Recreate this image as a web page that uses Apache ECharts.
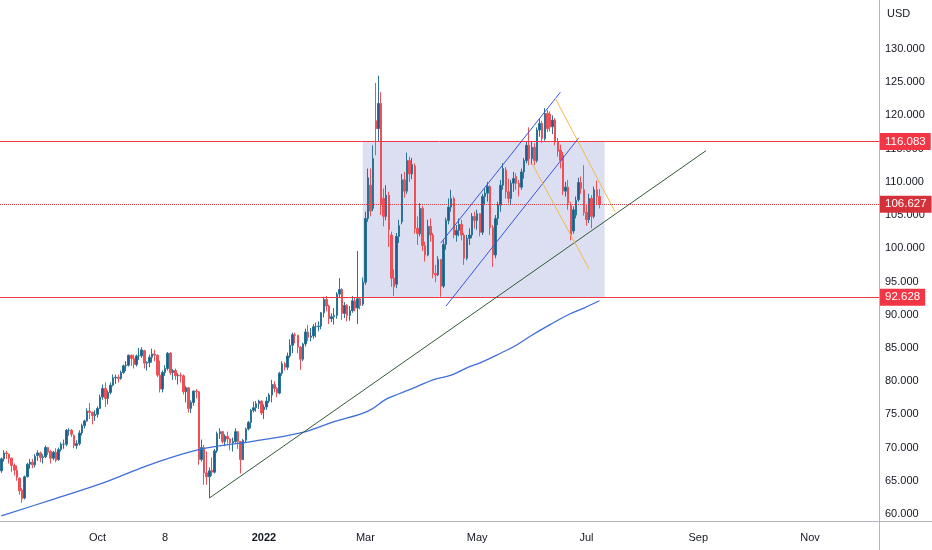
<!DOCTYPE html>
<html>
<head>
<meta charset="utf-8">
<title>USD daily chart</title>
<style>
  html, body { margin: 0; padding: 0; background: #ffffff; }
  #chart { width: 932px; height: 550px; }
</style>
</head>
<body>
<div id="chart"></div>
<script src="https://cdn.jsdelivr.net/npm/echarts@6.0.0/dist/echarts.min.js"></script>
<script>
// trading days (weekends and exchange holidays skipped), future days continue on weekdays
var holidays = ['2021-09-06', '2021-11-25', '2021-12-24', '2022-01-17', '2022-02-21',
  '2022-04-15', '2022-05-30', '2022-06-20', '2022-07-04'];
var barCount = 338;
var dates = [];
(function () {
  var d = new Date(Date.UTC(2021, 7, 10));
  while (dates.length < barCount) {
    var s = d.toISOString().slice(0, 10);
    var wd = d.getUTCDay();
    if (wd !== 0 && wd !== 6 && holidays.indexOf(s) < 0) dates.push(s);
    d.setUTCDate(d.getUTCDate() + 1);
  }
})();

var tickDates = ['2021-10-01', '2021-11-08', '2022-01-03', '2022-03-01', '2022-05-02', '2022-07-01', '2022-09-01', '2022-11-01'];
var tickTexts = ['Oct', '8', '2022', 'Mar', 'May', 'Jul', 'Sep', 'Nov'];
var priceTicks = [60, 65, 70, 75, 80, 85, 90, 95, 100, 105, 110, 115, 120, 125, 130];

// [open, close, low, high]
var ohlc = [
  // Aug 2021
  [66.5, 68.3, 66.2, 68.5], [68.3, 69.2, 67.9, 69.6], [69.2, 69.1, 68.3, 69.5], [69.0, 68.4, 67.6, 69.1],
  [68.4, 67.3, 66.3, 68.5], [67.3, 66.6, 65.8, 67.6], [66.6, 65.5, 65.0, 67.3], [65.4, 63.5, 62.9, 65.5],
  [63.6, 62.3, 61.7, 63.9], [62.4, 65.6, 62.2, 65.8], [65.6, 67.5, 65.5, 67.7], [67.5, 67.8, 66.8, 68.3],
  [67.8, 67.4, 66.9, 68.3], [67.4, 68.7, 67.0, 69.0], [68.8, 69.2, 68.0, 69.6], [69.2, 68.5, 67.8, 69.4],
  // Sep
  [68.5, 68.6, 67.6, 69.0], [68.6, 70.0, 68.4, 70.3], [70.0, 69.3, 68.9, 70.1], [69.4, 68.4, 67.6, 69.6],
  [68.4, 69.3, 68.1, 69.5], [69.3, 68.1, 67.8, 69.9], [68.2, 69.7, 68.0, 70.0], [69.7, 70.5, 69.4, 70.8],
  [70.5, 70.5, 69.8, 71.2], [70.5, 72.6, 70.2, 72.8], [72.6, 72.6, 71.8, 72.9], [72.6, 72.0, 71.6, 72.8],
  [71.8, 70.3, 69.9, 72.0], [70.3, 70.6, 69.8, 71.1], [70.6, 72.2, 70.3, 72.6], [72.2, 73.3, 71.8, 73.6],
  [73.3, 74.0, 72.9, 74.2], [74.0, 75.5, 73.9, 75.9], [75.5, 75.3, 74.3, 76.7], [75.3, 74.8, 73.5, 75.4],
  [74.8, 75.0, 74.0, 75.6],
  // Oct
  [75.0, 75.9, 74.5, 76.2], [75.9, 77.6, 75.8, 78.0], [77.6, 78.9, 77.2, 79.5], [78.9, 77.4, 76.1, 79.8],
  [77.4, 78.3, 76.5, 78.6], [78.3, 79.4, 78.0, 79.8], [79.4, 80.5, 79.2, 81.0], [80.5, 80.6, 79.6, 81.0],
  [80.6, 80.4, 79.8, 81.0], [80.4, 81.3, 80.2, 81.6], [81.3, 82.3, 81.1, 82.5], [82.3, 82.4, 81.5, 83.0],
  [82.4, 83.9, 82.2, 84.0], [83.9, 83.4, 82.3, 84.0], [83.4, 82.5, 81.9, 84.0], [82.5, 83.8, 82.2, 84.0],
  [83.8, 83.8, 83.2, 85.0], [83.8, 84.7, 83.5, 85.1], [84.6, 82.7, 81.9, 84.7], [82.7, 82.8, 81.6, 83.0],
  [82.8, 83.6, 82.1, 84.0],
  // Nov
  [83.6, 84.1, 82.8, 84.9], [84.1, 83.9, 83.0, 84.7], [83.9, 80.9, 80.6, 84.0], [80.9, 78.8, 78.3, 83.1],
  [78.8, 81.3, 78.3, 81.6], [81.3, 81.9, 80.8, 82.4], [81.9, 84.2, 81.6, 84.4], [84.2, 81.3, 80.9, 84.4],
  [81.3, 81.6, 80.2, 81.8], [81.6, 80.8, 80.2, 81.9], [80.8, 80.9, 79.5, 81.2], [80.9, 80.8, 79.8, 81.3],
  [80.8, 78.4, 78.0, 81.0], [78.4, 79.0, 76.8, 79.3], [79.0, 75.9, 75.3, 79.1], [75.9, 76.8, 75.2, 77.1],
  [76.8, 78.5, 76.3, 78.6], [78.5, 78.4, 77.4, 78.8], [78.4, 68.2, 67.4, 78.5], [68.2, 70.0, 67.9, 71.2],
  [70.0, 66.2, 64.4, 70.4],
  // Dec
  [66.2, 65.6, 64.4, 69.4], [65.6, 66.5, 62.4, 67.0], [66.6, 66.3, 65.7, 68.5], [66.3, 69.5, 66.1, 69.8],
  [69.5, 72.1, 69.2, 72.4], [72.1, 72.4, 71.3, 72.9], [72.4, 70.9, 70.6, 72.5], [70.9, 71.7, 70.2, 72.0],
  [71.7, 71.3, 70.6, 72.4], [71.3, 70.7, 69.6, 71.4], [70.7, 70.9, 69.4, 71.5], [70.9, 72.4, 70.7, 72.9],
  [72.4, 70.9, 69.8, 72.5], [70.9, 68.2, 66.1, 71.0], [68.2, 71.1, 68.1, 71.3], [71.1, 72.8, 70.8, 73.0],
  [72.8, 73.8, 72.6, 74.0], [73.8, 75.6, 72.9, 75.8], [75.6, 76.0, 75.3, 76.9], [76.0, 76.6, 75.4, 77.0],
  [76.6, 77.0, 75.8, 77.2], [77.0, 75.2, 74.9, 77.1],
  // Jan 2022
  [75.7, 76.1, 74.3, 76.5], [76.1, 77.0, 75.7, 77.6], [77.0, 77.9, 76.7, 78.2], [77.9, 79.5, 76.8, 80.2],
  [79.5, 78.9, 78.3, 80.0], [78.9, 78.2, 77.6, 79.1], [78.2, 81.2, 78.0, 81.4], [81.2, 82.6, 80.8, 83.0],
  [82.6, 82.1, 81.6, 82.9], [82.1, 83.8, 81.7, 84.3], [83.8, 85.4, 83.5, 86.3], [85.4, 87.0, 84.2, 87.3],
  [87.0, 86.9, 85.7, 87.3], [86.9, 85.1, 84.2, 87.0], [85.1, 83.3, 81.7, 85.3], [83.3, 85.6, 83.0, 85.8],
  [85.6, 87.4, 85.2, 87.9], [87.4, 86.6, 86.0, 88.5], [86.6, 86.8, 86.0, 88.0], [86.8, 88.2, 86.4, 88.6],
  // Feb
  [88.2, 88.2, 86.6, 88.8], [88.2, 88.3, 87.5, 89.0], [88.3, 90.3, 87.8, 90.4], [90.3, 92.3, 89.6, 92.7],
  [92.3, 91.3, 90.5, 92.8], [91.3, 89.4, 88.6, 91.5], [89.4, 89.7, 88.9, 90.2], [89.7, 89.9, 88.5, 91.0],
  [89.9, 93.1, 89.4, 93.4], [93.1, 93.8, 92.5, 95.5], [93.8, 90.2, 89.2, 94.0], [90.2, 91.4, 89.5, 91.9],
  [91.4, 89.9, 89.0, 91.6], [89.9, 90.6, 89.1, 91.3], [90.6, 92.1, 90.3, 92.8], [92.1, 91.0, 90.5, 92.6],
  [91.0, 92.4, 88.6, 99.6], [92.4, 91.4, 90.8, 92.6], [91.6, 94.9, 91.3, 95.6],
  // Mar
  [94.9, 104.5, 94.5, 105.5], [104.5, 110.6, 104.0, 112.0], [109.5, 105.6, 104.8, 112.0], [106.0, 113.5, 105.6, 115.5],
  [119.2, 118.0, 114.0, 124.9], [118.0, 121.8, 116.0, 126.0], [121.8, 106.5, 105.0, 123.5], [107.5, 104.8, 103.3, 109.0],
  [104.8, 108.0, 104.2, 109.5], [108.0, 102.8, 100.2, 108.5], [102.0, 95.5, 94.2, 102.5], [95.5, 94.2, 92.8, 96.8],
  [94.6, 101.8, 94.0, 102.3], [101.8, 103.4, 100.8, 104.3], [104.0, 110.3, 103.6, 111.2], [110.3, 108.6, 107.6, 111.5],
  [108.6, 113.2, 108.2, 114.4], [113.2, 111.2, 110.0, 113.8], [111.2, 112.6, 110.4, 113.6], [112.4, 103.0, 102.2, 112.8],
  [103.0, 102.2, 100.5, 104.8], [102.2, 106.0, 101.8, 106.8], [106.0, 100.4, 99.6, 106.4],
  // Apr
  [100.4, 99.0, 98.0, 101.0], [99.0, 103.3, 98.8, 104.3], [103.3, 102.0, 101.0, 104.5], [102.0, 96.2, 95.5, 102.3],
  [96.2, 96.0, 94.9, 97.5], [96.0, 98.3, 95.8, 98.8], [98.3, 94.3, 92.7, 98.4], [94.3, 100.6, 94.0, 101.2],
  [100.6, 104.2, 99.8, 104.6], [104.2, 106.2, 103.6, 107.5], [106.2, 107.5, 105.5, 108.8], [107.5, 102.0, 101.5, 107.8],
  [102.0, 102.7, 101.0, 103.5], [102.7, 103.6, 101.8, 104.5], [103.6, 102.0, 101.2, 104.3], [102.0, 98.5, 97.5, 102.3],
  [98.5, 101.5, 98.2, 102.0], [101.5, 102.0, 100.5, 103.0], [102.0, 104.8, 101.5, 105.3], [104.8, 104.2, 103.0, 105.5],
  // May
  [104.2, 105.2, 102.8, 105.8], [105.2, 102.4, 101.8, 105.3], [102.4, 107.8, 102.0, 108.2], [107.8, 108.3, 106.5, 109.0],
  [108.3, 109.3, 107.0, 110.0], [109.3, 103.1, 102.0, 109.5], [103.1, 99.0, 97.2, 103.5], [99.0, 104.5, 98.5, 105.0],
  [104.5, 106.5, 103.5, 107.0], [106.5, 109.5, 105.5, 110.3], [109.5, 112.0, 108.8, 112.8], [111.8, 108.5, 107.5, 112.2],
  [108.5, 107.5, 106.8, 110.5], [107.5, 109.8, 106.5, 110.3], [109.8, 110.5, 108.5, 111.5], [110.8, 109.8, 108.8, 111.3],
  [109.8, 109.2, 107.8, 110.3], [109.2, 111.5, 108.8, 112.0], [111.5, 113.2, 110.5, 113.6], [113.2, 115.5, 112.8, 116.0],
  [115.5, 113.5, 112.5, 118.2],
  // Jun
  [113.5, 115.2, 112.6, 116.0], [115.2, 113.2, 112.5, 115.8], [113.2, 117.8, 112.9, 118.2], [117.8, 118.8, 116.8, 119.5],
  [118.8, 116.5, 115.9, 119.2], [116.5, 120.3, 116.2, 121.1], [120.3, 118.0, 117.5, 120.8], [120.2, 118.3, 117.6, 120.6],
  [118.3, 119.3, 117.2, 120.0], [119.3, 116.0, 115.5, 119.6], [116.0, 114.6, 113.8, 116.6], [114.8, 113.2, 112.0, 115.6],
  [114.0, 108.6, 108.0, 114.5], [108.6, 109.2, 107.8, 110.0], [109.2, 106.8, 105.8, 110.3], [106.5, 102.0, 101.2, 107.0],
  [102.6, 105.8, 102.2, 106.3], [105.0, 107.2, 104.5, 107.8], [107.3, 109.9, 107.0, 110.6], [109.9, 109.0, 108.2, 110.8],
  [108.8, 105.4, 104.9, 112.5],
  // Jul
  [105.4, 104.3, 103.4, 106.5], [104.3, 107.5, 103.8, 108.2], [107.5, 104.8, 103.0, 108.0], [104.8, 108.8, 104.5, 109.3],
  [108.8, 107.8, 106.5, 110.2], [107.8, 106.627, 106.0, 108.9]
];

// 200-day moving average, read at some bars (bar index, value)
var maIndex = [0, 19, 40, 57, 76, 96, 115, 128, 141, 148, 153, 160, 166, 173, 179, 185, 192, 198, 204, 211, 218, 224, 230];
var maValue = [59.7, 62.1, 64.8, 67.4, 69.7, 70.9, 72.2, 73.9, 75.5, 77.3, 78.1, 79.2, 80.2, 80.9, 82.0, 82.9, 84.2, 85.4, 86.9, 88.5, 90.0, 91.0, 92.1];

// horizontal levels and range box
var levelTop = 116.083;
var levelBottom = 92.628;
var lastPrice = 106.627;
var boxStart = 139;
var boxEnd = 232;

// drawn trend lines, [bar index, price] end points
var trendGreen = [[80, 62.4], [271, 114.7]];
var channelBlueUpper = [[169, 100.8], [215, 123.5]];
var channelBlueLower = [[171, 91.3], [222, 116.6]];
var channelOrangeUpper = [[213, 122.6], [236, 105.5]];
var channelOrangeLower = [[204, 112.8], [226, 96.9]];

function seg(points) {
  return points.map(function (p) { return [dates[p[0]], p[1]]; });
}

function drawLine(points, color) {
  return {
    type: 'line', data: seg(points), symbol: 'none', silent: true, z: 5,
    lineStyle: { color: color, width: 1 }
  };
}

function levelLabel(text, bg) {
  return {
    show: true, position: 'end', distance: 1, formatter: text,
    color: '#ffffff', backgroundColor: bg, padding: [3, 5, 2, 5],
    fontSize: 11.5, fontFamily: 'Liberation Sans, Arial, sans-serif'
  };
}

var chart = echarts.init(document.getElementById('chart'));

var option = {
  animation: false,
  textStyle: { fontFamily: 'Liberation Sans, Arial, sans-serif' },
  grid: { left: 0, right: 53, top: 0, bottom: 29 },
  xAxis: {
    type: 'category',
    data: dates,
    boundaryGap: true,
    axisLine: { show: false },
    axisTick: { show: false },
    splitLine: { show: false },
    axisLabel: {
      interval: function (i, v) { return tickDates.indexOf(v) >= 0; },
      formatter: function (v) {
        var t = tickTexts[tickDates.indexOf(v)];
        return t === '2022' ? '{b|' + t + '}' : t;
      },
      color: '#131722',
      fontSize: 11,
      margin: 11,
      rich: { b: { fontWeight: 'bold', fontSize: 11, color: '#131722' } }
    }
  },
  yAxis: {
    type: 'value',
    position: 'right',
    min: 58.946,
    max: 137.376,
    axisLine: { show: false },
    axisTick: { show: false },
    splitLine: { show: false },
    axisLabel: {
      customValues: priceTicks,
      formatter: function (v) { return v.toFixed(3); },
      color: '#131722',
      fontSize: 11,
      margin: 6,
      align: 'left'
    }
  },
  series: [
    {
      type: 'line', data: [], silent: true, z: 1,
      markArea: {
        silent: true,
        itemStyle: { color: 'rgba(122, 136, 204, 0.27)' },
        data: [[{ xAxis: dates[boxStart], yAxis: levelTop }, { xAxis: dates[boxEnd], yAxis: levelBottom }]]
      }
    },
    {
      type: 'candlestick',
      data: ohlc,
      barWidth: 2,
      z: 3,
      itemStyle: {
        color: '#1f5a8a', color0: '#ef4f56',
        borderColor: '#2b7394', borderColor0: '#ef4f56', borderWidth: 1
      }
    },
    {
      type: 'line',
      data: maIndex.map(function (i, k) { return [dates[i], maValue[k]]; }),
      smooth: 0.4, symbol: 'none', silent: true, z: 4,
      lineStyle: { color: '#3d6fd8', width: 1.3 }
    },
    drawLine(trendGreen, '#2f5a35'),
    drawLine(channelBlueUpper, '#3b52e0'),
    drawLine(channelBlueLower, '#3b52e0'),
    drawLine(channelOrangeUpper, '#f2b84b'),
    drawLine(channelOrangeLower, '#f2b84b'),
    {
      type: 'line', data: [], silent: true, z: 6,
      markLine: {
        silent: true,
        symbol: ['none', 'none'],
        data: [
          { yAxis: levelTop, lineStyle: { color: '#f23645', width: 1, type: 'solid' }, label: levelLabel('116.083', '#f23645') },
          { yAxis: lastPrice, lineStyle: { color: '#e0414b', width: 1, type: 'dotted' }, label: levelLabel('106.627', '#d5313b') },
          { yAxis: levelBottom, lineStyle: { color: '#f23645', width: 1, type: 'solid' }, label: levelLabel('92.628', '#f23645') }
        ]
      }
    }
  ],
  graphic: [
    { type: 'line', shape: { x1: 879.5, y1: 0, x2: 879.5, y2: 550 }, style: { stroke: '#b2b5be', lineWidth: 1 }, z: 10 },
    { type: 'line', shape: { x1: 0, y1: 521.5, x2: 932, y2: 521.5 }, style: { stroke: '#b2b5be', lineWidth: 1 }, z: 10 },
    { type: 'text', left: 887, top: 8, style: { text: 'USD', fill: '#131722', font: '11px Liberation Sans, Arial, sans-serif' } }
  ]
};

chart.setOption(option);
</script>
</body>
</html>
